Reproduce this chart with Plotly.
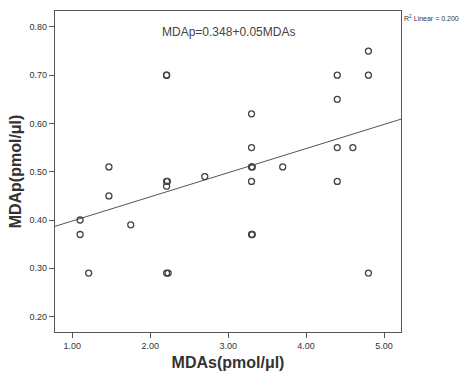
import plotly.graph_objects as go

mdas = [1.10, 1.10, 1.21, 1.47, 1.47, 1.75,
        2.21, 2.21, 2.21, 2.22, 2.21, 2.21, 2.23,
        2.70,
        3.30, 3.30, 3.30, 3.31, 3.30, 3.30, 3.31,
        3.70,
        4.40, 4.40, 4.40, 4.40, 4.60,
        4.80, 4.80, 4.80]
mdap = [0.40, 0.37, 0.29, 0.51, 0.45, 0.39,
        0.70, 0.70, 0.48, 0.48, 0.47, 0.29, 0.29,
        0.49,
        0.62, 0.55, 0.51, 0.51, 0.48, 0.37, 0.37,
        0.51,
        0.70, 0.65, 0.55, 0.48, 0.55,
        0.75, 0.70, 0.29]

intercept = 0.348
slope = 0.05
x_range = [0.778, 5.218]
y_range = [0.168, 0.833]
x_ticks = [1, 2, 3, 4, 5]
y_ticks = [0.2, 0.3, 0.4, 0.5, 0.6, 0.7, 0.8]

fit_x = x_range
fit_y = [intercept + slope * v for v in fit_x]

fig = go.Figure()
fig.add_trace(go.Scatter(x=fit_x, y=fit_y, mode="lines",
                         line=dict(color="#555555", width=1), hoverinfo="skip"))
fig.add_trace(go.Scatter(x=mdas, y=mdap, mode="markers",
                         marker=dict(symbol="circle-open", size=6,
                                     color="#444444", line=dict(width=1.3))))

axis_common = dict(showgrid=False, zeroline=False, showline=True, mirror=True,
                   linecolor="#555555", linewidth=1.3, ticks="outside", ticklen=5,
                   tickcolor="#555555", automargin=False,
                   tickfont=dict(family="Liberation Sans, Arial", size=9, color="#333333"))

fig.update_xaxes(range=x_range, tickvals=x_ticks,
                 ticktext=[f"{v:.2f}" for v in x_ticks],
                 title=dict(text="<b>MDAs(pmol/μl)</b>", standoff=6,
                            font=dict(family="Liberation Sans, Arial", size=16, color="#333333")),
                 **axis_common)
fig.update_yaxes(range=y_range, tickvals=y_ticks,
                 ticktext=[f"{v:.2f}" for v in y_ticks],
                 title=dict(text="<b>MDAp(pmol/μl)</b>", standoff=3,
                            font=dict(family="Liberation Sans, Arial", size=16, color="#333333")),
                 **axis_common)

fig.add_annotation(x=0.5, y=0.79, xref="paper", yref="y",
                   text=f"MDAp={intercept}+{slope}MDAs", showarrow=False,
                   font=dict(family="Liberation Sans, Arial", size=12, color="#444444"))
fig.add_annotation(x=1.0, y=1.0, xref="paper", yref="paper", xanchor="left", yanchor="top",
                   xshift=1, yshift=-1,
                   text="R<sup>2</sup> Linear = 0.200", showarrow=False,
                   font=dict(family="Liberation Sans, Arial", size=7, color="#333333"))

fig.update_layout(width=463, height=373, showlegend=False,
                  margin=dict(l=55, r=62, t=11, b=41),
                  paper_bgcolor="white", plot_bgcolor="white")

fig.write_html("out.html")
